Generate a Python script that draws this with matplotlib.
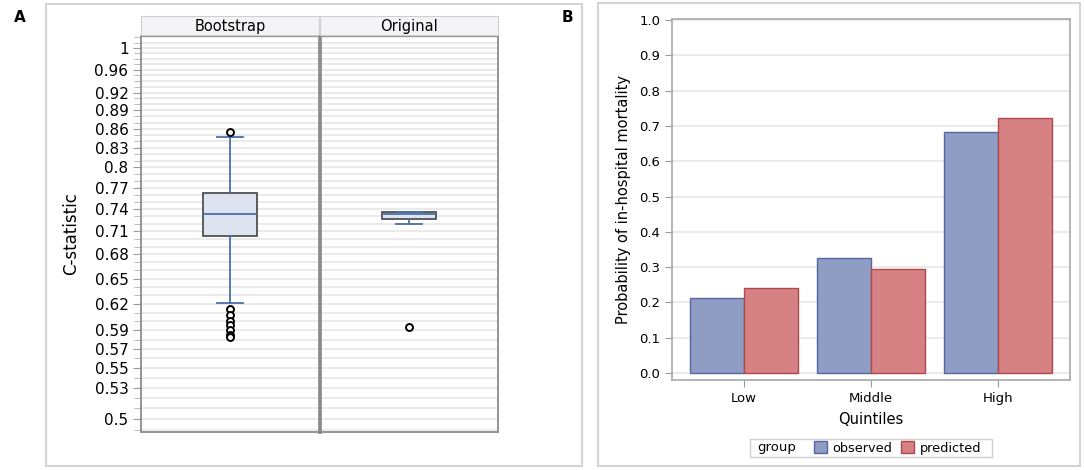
import numpy as np
import matplotlib
matplotlib.use('Agg')
import matplotlib.pyplot as plt
from matplotlib.patches import Rectangle, Patch
from matplotlib.ticker import FixedLocator, FixedFormatter, NullFormatter

W, H = 1084, 470

# ---- panel A data (C-statistic) ----
panels = ['Bootstrap', 'Original']
boot_stats = dict(med=0.733, q1=0.704, q3=0.763, whislo=0.621, whishi=0.847,
                  fliers=[0.855, 0.614, 0.607, 0.600, 0.596, 0.590, 0.585, 0.583])
orig_stats = dict(med=0.734, q1=0.726, q3=0.736, whislo=0.720, whishi=0.736,
                  fliers=[0.594])
c_ticks = [0.5, 0.53, 0.55, 0.57, 0.59, 0.62, 0.65, 0.68, 0.71, 0.74,
           0.77, 0.8, 0.83, 0.86, 0.89, 0.92, 0.96, 1]
c_labels = ['0.5', '0.53', '0.55', '0.57', '0.59', '0.62', '0.65', '0.68', '0.71',
            '0.74', '0.77', '0.8', '0.83', '0.86', '0.89', '0.92', '0.96', '1']

# ---- panel B data ----
quintiles = ['Low', 'Middle', 'High']
observed = [0.212, 0.326, 0.683]
predicted = [0.240, 0.295, 0.722]


def px(x0, y0, x1, y1):
    return [x0 / W, 1 - y1 / H, (x1 - x0) / W, (y1 - y0) / H]


def frame(x0, y0, x1, y1, col, lw):
    fig.patches.append(Rectangle((x0 / W, 1 - y1 / H), (x1 - x0) / W, (y1 - y0) / H,
                                 transform=fig.transFigure, fill=False,
                                 edgecolor=col, linewidth=lw))


fig = plt.figure(figsize=(W / 100, H / 100), dpi=100)
fig.patch.set_facecolor('white')

# outer frames
frame(46, 4, 582, 466, '#d4d4d4', 1.5)
frame(598, 3, 1080, 466, '#d4d4d4', 1.5)

fig.text(14 / W, 1 - 17 / H, 'A', fontsize=11, fontweight='bold', va='center')
fig.text(562 / W, 1 - 17 / H, 'B', fontsize=11, fontweight='bold', va='center')

# ---- panel A ----
minor = np.round(np.arange(0.49, 1.021, 0.01), 2)
ylo, yhi = 0.488, 1.0227
grid_col = '#e6e6e6'
edge_col = '#8c8c8c'
blue = '#4a6fa8'

xs = [(141, 319), (320, 498)]
for i, (name, st) in enumerate(zip(panels, [boot_stats, orig_stats])):
    ax = fig.add_axes(px(xs[i][0], 36, xs[i][1], 432))
    ax.set_yscale('log')
    ax.set_ylim(ylo, yhi)
    ax.set_xlim(0, 1)
    for v in minor:
        ax.axhline(v, color=grid_col, linewidth=1.2, zorder=0)
    ax.bxp([st], positions=[0.5], widths=0.3, patch_artist=True, showfliers=True,
           boxprops=dict(facecolor='#dde3ef', edgecolor='#505050', linewidth=1.3),
           medianprops=dict(color=blue, linewidth=1.3),
           whiskerprops=dict(color=blue, linewidth=1.3),
           capprops=dict(color=blue, linewidth=1.3),
           capwidths=0.15,
           flierprops=dict(marker='o', markerfacecolor='white', markeredgecolor='black',
                           markersize=5, markeredgewidth=1.4))
    ax.set_xticks([])
    for s in ax.spines.values():
        s.set_color(edge_col)
        s.set_linewidth(1.3)
    if i == 0:
        ax.yaxis.set_major_locator(FixedLocator(c_ticks))
        ax.yaxis.set_major_formatter(FixedFormatter(c_labels))
        ax.yaxis.set_minor_locator(FixedLocator(minor))
        ax.yaxis.set_minor_formatter(NullFormatter())
        ax.tick_params(axis='y', which='major', length=6, color='#9a9a9a',
                       labelsize=11, pad=3)
        ax.tick_params(axis='y', which='minor', length=5, color='#b0b0b0')
        ax.set_ylabel('C-statistic', fontsize=12, labelpad=10)
        ax.spines['right'].set_linewidth(2)
    else:
        ax.tick_params(axis='y', which='both', left=False, labelleft=False)
        ax.spines['left'].set_linewidth(2)
    # header strip
    hx = fig.add_axes(px(xs[i][0], 16, xs[i][1], 35))
    hx.set_facecolor('#f4f4f8')
    hx.set_xticks([])
    hx.set_yticks([])
    for s in hx.spines.values():
        s.set_color('#cfcfcf')
    hx.text(0.5, 0.45, name, ha='center', va='center', fontsize=10.5,
            transform=hx.transAxes)

# ---- panel B ----
bx = fig.add_axes(px(672, 19, 1070, 380))
x = np.arange(len(quintiles))
bw = 0.425
obs_fc, obs_ec = '#8f9dc4', '#5566a3'
pre_fc, pre_ec = '#d68284', '#b0484b'
bx.bar(x - bw / 2, observed, bw, color=obs_fc, edgecolor=obs_ec,
       linewidth=1, label='observed', zorder=2)
bx.bar(x + bw / 2, predicted, bw, color=pre_fc, edgecolor=pre_ec,
       linewidth=1, label='predicted', zorder=2)
bx.set_xlim(-0.57, 2.57)
bx.set_ylim(-0.02, 1.003)
bx.set_yticks(np.round(np.arange(0, 1.01, 0.1), 1))
bx.set_yticklabels(['%.1f' % v for v in np.arange(0, 1.01, 0.1)])
bx.yaxis.grid(True, color='#e8e8e8', linewidth=1.2)
bx.set_axisbelow(True)
bx.set_xticks(x)
bx.set_xticklabels(quintiles)
bx.tick_params(axis='both', labelsize=9.5, color='#9a9a9a', length=5)
for s in bx.spines.values():
    s.set_color('#a8a8a8')
    s.set_linewidth(1.2)
bx.set_xlabel('Quintiles', fontsize=10.5, labelpad=5)
bx.set_ylabel('Probability of in-hospital mortality', fontsize=10.5, labelpad=6)

# legend: "group" label + two swatches inside one frame
frame(750, 439, 992, 457, '#d0d0d0', 1)
fig.text(757 / W, 1 - 448 / H, 'group', fontsize=9.5, va='center', ha='left')
handles = [Patch(facecolor=obs_fc, edgecolor=obs_ec, label='observed'),
           Patch(facecolor=pre_fc, edgecolor=pre_ec, label='predicted')]
fig.legend(handles=handles, loc='center left', bbox_to_anchor=(806 / W, 1 - 448 / H),
           ncol=2, fontsize=9.3, frameon=False,
           handlelength=1.0, handleheight=1.0, handletextpad=0.45,
           columnspacing=0.7, borderpad=0.1)

fig.savefig('out.png', dpi=100)
